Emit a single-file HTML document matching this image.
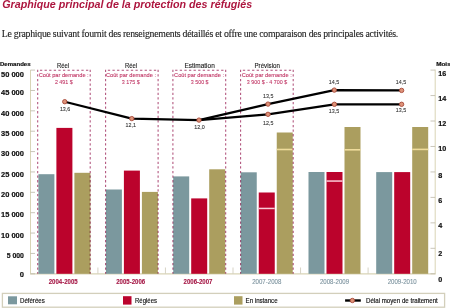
<!DOCTYPE html>
<html><head><meta charset="utf-8"><style>
html,body{margin:0;padding:0;background:#fff;width:450px;height:308px;overflow:hidden}
svg{display:block}
</style></head><body>
<svg width="450" height="308" viewBox="0 0 450 308">
<text x="2.2" y="8.0" font-size="10.1" fill="#ad163f" text-anchor="start" font-weight="bold" font-style="italic" font-family='"Liberation Sans", sans-serif' textLength="250" lengthAdjust="spacingAndGlyphs">Graphique principal de la protection des réfugiés</text>
<text x="1.8" y="36.6" font-size="9.8" fill="#1e1e1e" text-anchor="start" font-weight="normal" font-style="normal" font-family='"Liberation Serif", serif' textLength="396.5" lengthAdjust="spacing" stroke="#1e1e1e" stroke-width="0.12">Le graphique suivant fournit des renseignements détaillés et offre une comparaison des principales activités.</text>
<line x1="30.5" y1="70.1" x2="30.5" y2="273.8" stroke="#d9d4b6" stroke-width="1"/>
<line x1="435.2" y1="69.6" x2="435.2" y2="273.8" stroke="#d9d4b6" stroke-width="1"/>
<line x1="30" y1="273.8" x2="435.7" y2="273.8" stroke="#d9d4b6" stroke-width="1.2"/>
<line x1="30.5" y1="70.10" x2="35" y2="70.10" stroke="#bdb8a8" stroke-width="0.8"/>
<line x1="30.5" y1="90.47" x2="35" y2="90.47" stroke="#bdb8a8" stroke-width="0.8"/>
<line x1="30.5" y1="110.84" x2="35" y2="110.84" stroke="#bdb8a8" stroke-width="0.8"/>
<line x1="30.5" y1="131.21" x2="35" y2="131.21" stroke="#bdb8a8" stroke-width="0.8"/>
<line x1="30.5" y1="151.58" x2="35" y2="151.58" stroke="#bdb8a8" stroke-width="0.8"/>
<line x1="30.5" y1="171.95" x2="35" y2="171.95" stroke="#bdb8a8" stroke-width="0.8"/>
<line x1="30.5" y1="192.32" x2="35" y2="192.32" stroke="#bdb8a8" stroke-width="0.8"/>
<line x1="30.5" y1="212.69" x2="35" y2="212.69" stroke="#bdb8a8" stroke-width="0.8"/>
<line x1="30.5" y1="233.06" x2="35" y2="233.06" stroke="#bdb8a8" stroke-width="0.8"/>
<line x1="30.5" y1="253.43" x2="35" y2="253.43" stroke="#bdb8a8" stroke-width="0.8"/>
<line x1="30.5" y1="273.80" x2="35" y2="273.80" stroke="#bdb8a8" stroke-width="0.8"/>
<line x1="430.5" y1="70.10" x2="435.2" y2="70.10" stroke="#bdb8a8" stroke-width="0.8"/>
<line x1="430.5" y1="95.56" x2="435.2" y2="95.56" stroke="#bdb8a8" stroke-width="0.8"/>
<line x1="430.5" y1="121.02" x2="435.2" y2="121.02" stroke="#bdb8a8" stroke-width="0.8"/>
<line x1="430.5" y1="146.48" x2="435.2" y2="146.48" stroke="#bdb8a8" stroke-width="0.8"/>
<line x1="430.5" y1="171.94" x2="435.2" y2="171.94" stroke="#bdb8a8" stroke-width="0.8"/>
<line x1="430.5" y1="197.40" x2="435.2" y2="197.40" stroke="#bdb8a8" stroke-width="0.8"/>
<line x1="430.5" y1="222.86" x2="435.2" y2="222.86" stroke="#bdb8a8" stroke-width="0.8"/>
<line x1="430.5" y1="248.32" x2="435.2" y2="248.32" stroke="#bdb8a8" stroke-width="0.8"/>
<line x1="430.5" y1="273.78" x2="435.2" y2="273.78" stroke="#bdb8a8" stroke-width="0.8"/>
<line x1="97.90" y1="267.5" x2="97.90" y2="273.8" stroke="#d2cec0" stroke-width="0.9"/>
<line x1="165.45" y1="267.5" x2="165.45" y2="273.8" stroke="#d2cec0" stroke-width="0.9"/>
<line x1="233.00" y1="267.5" x2="233.00" y2="273.8" stroke="#d2cec0" stroke-width="0.9"/>
<line x1="300.55" y1="267.5" x2="300.55" y2="273.8" stroke="#d2cec0" stroke-width="0.9"/>
<line x1="368.10" y1="267.5" x2="368.10" y2="273.8" stroke="#d2cec0" stroke-width="0.9"/>
<text x="23.9" y="76.60" font-size="7.3" fill="#111" text-anchor="end" font-weight="bold" font-style="normal" font-family='"Liberation Sans", sans-serif' textLength="22.9" lengthAdjust="spacingAndGlyphs" stroke="#111" stroke-width="0.2">50 000</text>
<text x="23.9" y="94.80" font-size="7.3" fill="#111" text-anchor="end" font-weight="bold" font-style="normal" font-family='"Liberation Sans", sans-serif' textLength="22.9" lengthAdjust="spacingAndGlyphs" stroke="#111" stroke-width="0.2">45 000</text>
<text x="23.9" y="115.50" font-size="7.3" fill="#111" text-anchor="end" font-weight="bold" font-style="normal" font-family='"Liberation Sans", sans-serif' textLength="22.9" lengthAdjust="spacingAndGlyphs" stroke="#111" stroke-width="0.2">40 000</text>
<text x="23.9" y="135.60" font-size="7.3" fill="#111" text-anchor="end" font-weight="bold" font-style="normal" font-family='"Liberation Sans", sans-serif' textLength="22.9" lengthAdjust="spacingAndGlyphs" stroke="#111" stroke-width="0.2">35 000</text>
<text x="23.9" y="155.80" font-size="7.3" fill="#111" text-anchor="end" font-weight="bold" font-style="normal" font-family='"Liberation Sans", sans-serif' textLength="22.9" lengthAdjust="spacingAndGlyphs" stroke="#111" stroke-width="0.2">30 000</text>
<text x="23.9" y="176.50" font-size="7.3" fill="#111" text-anchor="end" font-weight="bold" font-style="normal" font-family='"Liberation Sans", sans-serif' textLength="22.9" lengthAdjust="spacingAndGlyphs" stroke="#111" stroke-width="0.2">25 000</text>
<text x="23.9" y="196.70" font-size="7.3" fill="#111" text-anchor="end" font-weight="bold" font-style="normal" font-family='"Liberation Sans", sans-serif' textLength="22.9" lengthAdjust="spacingAndGlyphs" stroke="#111" stroke-width="0.2">20 000</text>
<text x="23.9" y="217.10" font-size="7.3" fill="#111" text-anchor="end" font-weight="bold" font-style="normal" font-family='"Liberation Sans", sans-serif' textLength="22.9" lengthAdjust="spacingAndGlyphs" stroke="#111" stroke-width="0.2">15 000</text>
<text x="23.9" y="237.60" font-size="7.3" fill="#111" text-anchor="end" font-weight="bold" font-style="normal" font-family='"Liberation Sans", sans-serif' textLength="22.9" lengthAdjust="spacingAndGlyphs" stroke="#111" stroke-width="0.2">10 000</text>
<text x="23.9" y="257.90" font-size="7.3" fill="#111" text-anchor="end" font-weight="bold" font-style="normal" font-family='"Liberation Sans", sans-serif' textLength="17.2" lengthAdjust="spacingAndGlyphs" stroke="#111" stroke-width="0.2">5 000</text>
<text x="23.9" y="276.50" font-size="7.3" fill="#111" text-anchor="end" font-weight="bold" font-style="normal" font-family='"Liberation Sans", sans-serif' textLength="4.2" lengthAdjust="spacingAndGlyphs" stroke="#111" stroke-width="0.2">0</text>
<text x="0" y="66.1" font-size="6.1" fill="#111" text-anchor="start" font-weight="bold" font-style="normal" font-family='"Liberation Sans", sans-serif' textLength="30.6" lengthAdjust="spacingAndGlyphs" stroke="#111" stroke-width="0.2">Demandes</text>
<text x="438.3" y="75.90" font-size="7.2" fill="#111" text-anchor="start" font-weight="bold" font-style="normal" font-family='"Liberation Sans", sans-serif' stroke="#111" stroke-width="0.2">16</text>
<text x="438.3" y="100.70" font-size="7.2" fill="#111" text-anchor="start" font-weight="bold" font-style="normal" font-family='"Liberation Sans", sans-serif' stroke="#111" stroke-width="0.2">14</text>
<text x="438.3" y="125.90" font-size="7.2" fill="#111" text-anchor="start" font-weight="bold" font-style="normal" font-family='"Liberation Sans", sans-serif' stroke="#111" stroke-width="0.2">12</text>
<text x="438.3" y="151.40" font-size="7.2" fill="#111" text-anchor="start" font-weight="bold" font-style="normal" font-family='"Liberation Sans", sans-serif' stroke="#111" stroke-width="0.2">10</text>
<text x="438.3" y="177.60" font-size="7.2" fill="#111" text-anchor="start" font-weight="bold" font-style="normal" font-family='"Liberation Sans", sans-serif' stroke="#111" stroke-width="0.2">8</text>
<text x="438.3" y="203.40" font-size="7.2" fill="#111" text-anchor="start" font-weight="bold" font-style="normal" font-family='"Liberation Sans", sans-serif' stroke="#111" stroke-width="0.2">6</text>
<text x="438.3" y="228.40" font-size="7.2" fill="#111" text-anchor="start" font-weight="bold" font-style="normal" font-family='"Liberation Sans", sans-serif' stroke="#111" stroke-width="0.2">4</text>
<text x="438.3" y="255.60" font-size="7.2" fill="#111" text-anchor="start" font-weight="bold" font-style="normal" font-family='"Liberation Sans", sans-serif' stroke="#111" stroke-width="0.2">2</text>
<text x="438.3" y="282.00" font-size="7.2" fill="#111" text-anchor="start" font-weight="bold" font-style="normal" font-family='"Liberation Sans", sans-serif' stroke="#111" stroke-width="0.2">0</text>
<text x="436.2" y="66" font-size="5.6" fill="#111" text-anchor="start" font-weight="bold" font-style="normal" font-family='"Liberation Sans", sans-serif' textLength="14.5" lengthAdjust="spacingAndGlyphs" stroke="#111" stroke-width="0.2">Mois</text>
<rect x="38.40" y="174.2" width="16" height="99.60" fill="#7b989e"/>
<rect x="56.40" y="127.9" width="16" height="145.90" fill="#bb032c"/>
<rect x="74.40" y="172.8" width="16" height="101.00" fill="#ab9e5f"/>
<rect x="105.90" y="189.5" width="16" height="84.30" fill="#7b989e"/>
<rect x="123.90" y="170.6" width="16" height="103.20" fill="#bb032c"/>
<rect x="141.90" y="191.9" width="16" height="81.90" fill="#ab9e5f"/>
<rect x="173.20" y="176.4" width="16" height="97.40" fill="#7b989e"/>
<rect x="191.20" y="198.4" width="16" height="75.40" fill="#bb032c"/>
<rect x="209.20" y="169.3" width="16" height="104.50" fill="#ab9e5f"/>
<rect x="240.75" y="172.3" width="16" height="101.50" fill="#7b989e"/>
<rect x="258.75" y="192.5" width="16" height="81.30" fill="#bb032c"/>
<rect x="276.75" y="132.5" width="16" height="141.30" fill="#ab9e5f"/>
<rect x="258.75" y="207.70000000000002" width="16" height="1.5" fill="#f9cbd6"/>
<rect x="276.75" y="148.7" width="16" height="1.6" fill="#efdc9c"/>
<rect x="308.50" y="172.0" width="16" height="101.80" fill="#7b989e"/>
<rect x="326.50" y="172.0" width="16" height="101.80" fill="#bb032c"/>
<rect x="344.50" y="127.0" width="16" height="146.80" fill="#ab9e5f"/>
<rect x="326.50" y="180.3" width="16" height="1.5" fill="#f9cbd6"/>
<rect x="344.50" y="149.0" width="16" height="1.6" fill="#efdc9c"/>
<rect x="376.20" y="172.1" width="16" height="101.70" fill="#7b989e"/>
<rect x="394.20" y="172.1" width="16" height="101.70" fill="#bb032c"/>
<rect x="412.20" y="127.0" width="16" height="146.80" fill="#ab9e5f"/>
<rect x="412.20" y="148.6" width="16" height="1.6" fill="#efdc9c"/>
<path d="M39.95 70.3 H89.2" fill="none" stroke="#b0507a" stroke-width="1.05" stroke-dasharray="2.3 2.3" style="mix-blend-mode:multiply"/>
<path d="M37.7 69.69999999999999 V273.8 M90.2 69.69999999999999 V273.8" fill="none" stroke="#b0507a" stroke-width="1.05" stroke-dasharray="2.3 2.3" style="mix-blend-mode:multiply"/>
<text x="63" y="67.7" font-size="6.5" fill="#1e1e1e" text-anchor="middle" font-weight="normal" font-style="normal" font-family='"Liberation Sans", sans-serif' textLength="12.2" lengthAdjust="spacingAndGlyphs" stroke="#1e1e1e" stroke-width="0.12">Réel</text>
<text x="63.7" y="77.4" font-size="6.2" fill="#c23a68" text-anchor="middle" font-weight="normal" font-style="normal" font-family='"Liberation Sans", sans-serif' textLength="50" lengthAdjust="spacingAndGlyphs" stroke="#c23a68" stroke-width="0.12">Coût par demande :</text>
<text x="63.85" y="84.4" font-size="6.0" fill="#c23a68" text-anchor="middle" font-weight="normal" font-style="normal" font-family='"Liberation Sans", sans-serif' textLength="17.9" lengthAdjust="spacingAndGlyphs" stroke="#c23a68" stroke-width="0.1">2 491 $</text>
<path d="M107.85 70.3 H157.1" fill="none" stroke="#b0507a" stroke-width="1.05" stroke-dasharray="2.3 2.3" style="mix-blend-mode:multiply"/>
<path d="M105.6 69.69999999999999 V273.8 M158.1 69.69999999999999 V273.8" fill="none" stroke="#b0507a" stroke-width="1.05" stroke-dasharray="2.3 2.3" style="mix-blend-mode:multiply"/>
<text x="131.1" y="67.7" font-size="6.5" fill="#1e1e1e" text-anchor="middle" font-weight="normal" font-style="normal" font-family='"Liberation Sans", sans-serif' textLength="12.2" lengthAdjust="spacingAndGlyphs" stroke="#1e1e1e" stroke-width="0.12">Réel</text>
<text x="131" y="77.4" font-size="6.2" fill="#c23a68" text-anchor="middle" font-weight="normal" font-style="normal" font-family='"Liberation Sans", sans-serif' textLength="50" lengthAdjust="spacingAndGlyphs" stroke="#c23a68" stroke-width="0.12">Coût par demande :</text>
<text x="130.75" y="84.4" font-size="6.0" fill="#c23a68" text-anchor="middle" font-weight="normal" font-style="normal" font-family='"Liberation Sans", sans-serif' textLength="17.9" lengthAdjust="spacingAndGlyphs" stroke="#c23a68" stroke-width="0.1">3 175 $</text>
<path d="M175.15 70.3 H224.7" fill="none" stroke="#b0507a" stroke-width="1.05" stroke-dasharray="2.3 2.3" style="mix-blend-mode:multiply"/>
<path d="M172.9 69.69999999999999 V273.8 M225.7 69.69999999999999 V273.8" fill="none" stroke="#b0507a" stroke-width="1.05" stroke-dasharray="2.3 2.3" style="mix-blend-mode:multiply"/>
<text x="199.6" y="67.7" font-size="6.5" fill="#1e1e1e" text-anchor="middle" font-weight="normal" font-style="normal" font-family='"Liberation Sans", sans-serif' textLength="30.4" lengthAdjust="spacingAndGlyphs" stroke="#1e1e1e" stroke-width="0.12">Estimation</text>
<text x="199.05" y="77.4" font-size="6.2" fill="#c23a68" text-anchor="middle" font-weight="normal" font-style="normal" font-family='"Liberation Sans", sans-serif' textLength="50" lengthAdjust="spacingAndGlyphs" stroke="#c23a68" stroke-width="0.12">Coût par demande :</text>
<text x="199.7" y="84.4" font-size="6.0" fill="#c23a68" text-anchor="middle" font-weight="normal" font-style="normal" font-family='"Liberation Sans", sans-serif' textLength="17.8" lengthAdjust="spacingAndGlyphs" stroke="#c23a68" stroke-width="0.1">3 500 $</text>
<path d="M242.85 70.3 H292.2" fill="none" stroke="#b0507a" stroke-width="1.05" stroke-dasharray="2.3 2.3" style="mix-blend-mode:multiply"/>
<path d="M240.6 69.69999999999999 V273.8 M293.2 69.69999999999999 V273.8" fill="none" stroke="#b0507a" stroke-width="1.05" stroke-dasharray="2.3 2.3" style="mix-blend-mode:multiply"/>
<text x="267.2" y="67.7" font-size="6.5" fill="#1e1e1e" text-anchor="middle" font-weight="normal" font-style="normal" font-family='"Liberation Sans", sans-serif' textLength="25.4" lengthAdjust="spacingAndGlyphs" stroke="#1e1e1e" stroke-width="0.12">Prévision</text>
<text x="266.75" y="77.4" font-size="6.2" fill="#c23a68" text-anchor="middle" font-weight="normal" font-style="normal" font-family='"Liberation Sans", sans-serif' textLength="50" lengthAdjust="spacingAndGlyphs" stroke="#c23a68" stroke-width="0.12">Coût par demande :</text>
<text x="267" y="84.4" font-size="6.0" fill="#c23a68" text-anchor="middle" font-weight="normal" font-style="normal" font-family='"Liberation Sans", sans-serif' textLength="40.4" lengthAdjust="spacingAndGlyphs" stroke="#c23a68" stroke-width="0.1">3 900 $ - 4 700 $</text>
<text x="63.20" y="283.8" font-size="6.4" fill="#a61a48" text-anchor="middle" font-weight="bold" font-style="normal" font-family='"Liberation Sans", sans-serif' textLength="28.9" lengthAdjust="spacingAndGlyphs" stroke="#a61a48" stroke-width="0.12">2004-2005</text>
<text x="130.70" y="283.8" font-size="6.4" fill="#a61a48" text-anchor="middle" font-weight="bold" font-style="normal" font-family='"Liberation Sans", sans-serif' textLength="28.9" lengthAdjust="spacingAndGlyphs" stroke="#a61a48" stroke-width="0.12">2005-2006</text>
<text x="198.00" y="283.8" font-size="6.4" fill="#a61a48" text-anchor="middle" font-weight="bold" font-style="normal" font-family='"Liberation Sans", sans-serif' textLength="28.9" lengthAdjust="spacingAndGlyphs" stroke="#a61a48" stroke-width="0.12">2006-2007</text>
<text x="266.75" y="283.8" font-size="6.3" fill="#7f95a0" text-anchor="middle" font-weight="normal" font-style="normal" font-family='"Liberation Sans", sans-serif' textLength="29.1" lengthAdjust="spacingAndGlyphs" stroke="#7f95a0" stroke-width="0.12">2007-2008</text>
<text x="334.50" y="283.8" font-size="6.3" fill="#7f95a0" text-anchor="middle" font-weight="normal" font-style="normal" font-family='"Liberation Sans", sans-serif' textLength="29.1" lengthAdjust="spacingAndGlyphs" stroke="#7f95a0" stroke-width="0.12">2008-2009</text>
<text x="402.20" y="283.8" font-size="6.3" fill="#7f95a0" text-anchor="middle" font-weight="normal" font-style="normal" font-family='"Liberation Sans", sans-serif' textLength="29.1" lengthAdjust="spacingAndGlyphs" stroke="#7f95a0" stroke-width="0.12">2009-2010</text>
<path d="M64.75 101.7 L131.8 118.6 L199 120.1 L268 104.1 L334.3 90.1 L401.6 90.4" fill="none" stroke="#000" stroke-width="2.2" stroke-linejoin="round"/>
<path d="M199 120.1 L268 114.3 L334.4 104.3 L401.6 104.3" fill="none" stroke="#000" stroke-width="2.2" stroke-linejoin="round"/>
<circle cx="64.75" cy="101.7" r="2.2" fill="#dd9278" stroke="#a84a3a" stroke-width="0.9"/>
<circle cx="131.8" cy="118.6" r="2.2" fill="#dd9278" stroke="#a84a3a" stroke-width="0.9"/>
<circle cx="199" cy="120.1" r="2.2" fill="#dd9278" stroke="#a84a3a" stroke-width="0.9"/>
<circle cx="268" cy="104.1" r="2.2" fill="#dd9278" stroke="#a84a3a" stroke-width="0.9"/>
<circle cx="334.3" cy="90.1" r="2.2" fill="#dd9278" stroke="#a84a3a" stroke-width="0.9"/>
<circle cx="401.6" cy="90.4" r="2.2" fill="#dd9278" stroke="#a84a3a" stroke-width="0.9"/>
<circle cx="268" cy="114.3" r="2.2" fill="#dd9278" stroke="#a84a3a" stroke-width="0.9"/>
<circle cx="334.4" cy="104.3" r="2.2" fill="#dd9278" stroke="#a84a3a" stroke-width="0.9"/>
<circle cx="401.6" cy="104.3" r="2.2" fill="#dd9278" stroke="#a84a3a" stroke-width="0.9"/>
<text x="65.1" y="111.19999999999999" font-size="6.0" fill="#333" text-anchor="middle" font-weight="normal" font-style="normal" font-family='"Liberation Sans", sans-serif' textLength="10.4" lengthAdjust="spacingAndGlyphs" stroke="#333" stroke-width="0.1">13,6</text>
<text x="130.8" y="126.5" font-size="6.0" fill="#333" text-anchor="middle" font-weight="normal" font-style="normal" font-family='"Liberation Sans", sans-serif' textLength="10.4" lengthAdjust="spacingAndGlyphs" stroke="#333" stroke-width="0.1">12,1</text>
<text x="199.5" y="128.9" font-size="6.0" fill="#333" text-anchor="middle" font-weight="normal" font-style="normal" font-family='"Liberation Sans", sans-serif' textLength="10.4" lengthAdjust="spacingAndGlyphs" stroke="#333" stroke-width="0.1">12,0</text>
<text x="268.2" y="97.89999999999999" font-size="6.0" fill="#333" text-anchor="middle" font-weight="normal" font-style="normal" font-family='"Liberation Sans", sans-serif' textLength="10.4" lengthAdjust="spacingAndGlyphs" stroke="#333" stroke-width="0.1">13,5</text>
<text x="268.3" y="124.69999999999999" font-size="6.0" fill="#333" text-anchor="middle" font-weight="normal" font-style="normal" font-family='"Liberation Sans", sans-serif' textLength="10.4" lengthAdjust="spacingAndGlyphs" stroke="#333" stroke-width="0.1">12,5</text>
<text x="334" y="113.3" font-size="6.0" fill="#333" text-anchor="middle" font-weight="normal" font-style="normal" font-family='"Liberation Sans", sans-serif' textLength="10.4" lengthAdjust="spacingAndGlyphs" stroke="#333" stroke-width="0.1">13,5</text>
<text x="334" y="83.89999999999999" font-size="6.0" fill="#333" text-anchor="middle" font-weight="normal" font-style="normal" font-family='"Liberation Sans", sans-serif' textLength="10.4" lengthAdjust="spacingAndGlyphs" stroke="#333" stroke-width="0.1">14,5</text>
<text x="401" y="83.5" font-size="6.0" fill="#333" text-anchor="middle" font-weight="normal" font-style="normal" font-family='"Liberation Sans", sans-serif' textLength="10.4" lengthAdjust="spacingAndGlyphs" stroke="#333" stroke-width="0.1">14,5</text>
<text x="401" y="111.89999999999999" font-size="6.0" fill="#333" text-anchor="middle" font-weight="normal" font-style="normal" font-family='"Liberation Sans", sans-serif' textLength="10.4" lengthAdjust="spacingAndGlyphs" stroke="#333" stroke-width="0.1">13,5</text>
<rect x="2.4" y="293.4" width="442.2" height="13.8" fill="none" stroke="#d3cfbb" stroke-width="1.3"/>
<rect x="8" y="296.3" width="9" height="8" fill="#7b989e"/>
<text x="20" y="302.6" font-size="6.6" fill="#111" text-anchor="start" font-weight="normal" font-style="normal" font-family='"Liberation Sans", sans-serif' textLength="24.7" lengthAdjust="spacingAndGlyphs" stroke="#111" stroke-width="0.15">Déférées</text>
<rect x="123" y="296.2" width="8.5" height="8.4" fill="#bb032c"/>
<text x="135" y="302.6" font-size="6.6" fill="#111" text-anchor="start" font-weight="normal" font-style="normal" font-family='"Liberation Sans", sans-serif' textLength="22" lengthAdjust="spacingAndGlyphs" stroke="#111" stroke-width="0.15">Réglées</text>
<rect x="234" y="296.2" width="8.5" height="8.4" fill="#ab9e5f"/>
<text x="245.6" y="302.6" font-size="6.6" fill="#111" text-anchor="start" font-weight="normal" font-style="normal" font-family='"Liberation Sans", sans-serif' textLength="32" lengthAdjust="spacingAndGlyphs" stroke="#111" stroke-width="0.15">En instance</text>
<line x1="345.1" y1="300.5" x2="360.8" y2="300.5" stroke="#000" stroke-width="2.4"/>
<circle cx="352.4" cy="300.5" r="2.2" fill="#dd9278" stroke="#a84a3a" stroke-width="0.9"/>
<text x="366" y="302.6" font-size="6.6" fill="#111" text-anchor="start" font-weight="normal" font-style="normal" font-family='"Liberation Sans", sans-serif' textLength="71.8" lengthAdjust="spacingAndGlyphs" stroke="#111" stroke-width="0.15">Délai moyen de traitement</text>
</svg>
</body></html>
